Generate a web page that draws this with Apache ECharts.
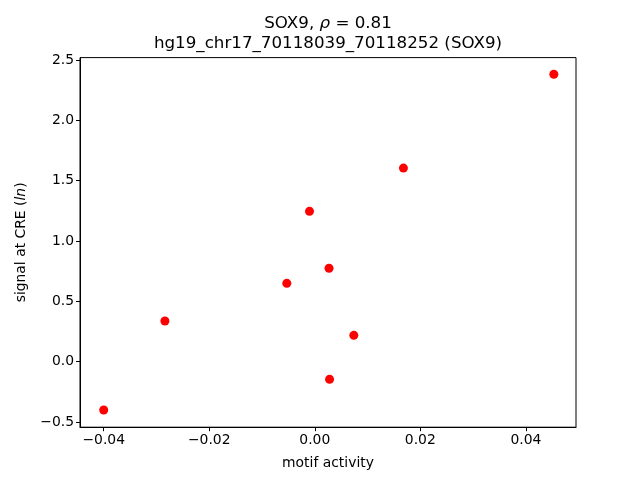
<!DOCTYPE html>
<html><head><meta charset="utf-8">
<script src="https://cdn.jsdelivr.net/npm/echarts@6/dist/echarts.min.js"></script>
<style>html,body{margin:0;padding:0;background:#fff}#c{width:640px;height:480px}</style>
</head><body><div id="c"></div>
<script>
const motifActivity = [-0.0400, -0.0284, -0.0053, -0.0010, 0.0027, 0.0028, 0.0074, 0.0168, 0.0453];
const signalAtCRE   = [-0.401, 0.337, 0.649, 1.246, 0.774, -0.147, 0.218, 1.605, 2.383];
const xTicks = [-0.04, -0.02, 0.00, 0.02, 0.04];
const yTicks = [-0.5, 0.0, 0.5, 1.0, 1.5, 2.0, 2.5];

const pts = motifActivity.map((x, i) => [x, signalAtCRE[i]]);
const font = 'DejaVu Sans';
const fmt = (v, d) => { const s = Math.abs(v).toFixed(d); return (v < -1e-12 ? '\u2212' : '') + s; };

const chart = echarts.init(document.getElementById('c'), null, {renderer: 'canvas'});
chart.setOption({
  animation: false,
  backgroundColor: '#fff',
  title: {
    left: 323, top: 9, textAlign: 'center',
    text: '{a|SOX9, }{i|\u03c1}{a| = 0.81}\n{a|hg19_chr17_70118039_70118252 (SOX9)}',
    textStyle: {
      fontWeight: 'normal',
      rich: {
        a: {fontFamily: font, fontSize: 16.7, color: '#000', lineHeight: 20, fontWeight: 'normal'},
        i: {fontFamily: font, fontSize: 16.7, color: '#000', fontStyle: 'italic', lineHeight: 20, fontWeight: 'normal'}
      }
    }
  },
  grid: {left: 80, right: 64, top: 57.6, bottom: 52.8, show: true, borderColor: '#000', borderWidth: 1, backgroundColor: 'transparent', containLabel: false},
  xAxis: {
    type: 'value', min: -0.04449, max: 0.0495,
    name: 'motif activity', nameLocation: 'middle', nameGap: 29,
    nameTextStyle: {fontFamily: font, fontSize: 13.9, color: '#000'},
    axisLine: {show: true, onZero: false, lineStyle: {color: '#000', width: 1}},
    axisTick: {show: true, length: 4, lineStyle: {color: '#000'}, customValues: xTicks},
    axisLabel: {fontFamily: font, fontSize: 13.9, color: '#000', margin: 6, customValues: xTicks, formatter: v => fmt(v, 2)},
    splitLine: {show: false}
  },
  yAxis: {
    type: 'value', min: -0.544, max: 2.521,
    name: '{a|signal at CRE (}{i|ln}{a|)}', nameLocation: 'middle', nameGap: 52,
    nameTextStyle: {rich: {
      a: {fontFamily: font, fontSize: 13.9, color: '#000'},
      i: {fontFamily: font, fontSize: 13.9, color: '#000', fontStyle: 'italic'}
    }},
    axisLine: {show: true, onZero: false, lineStyle: {color: '#000', width: 1}},
    axisTick: {show: true, length: 4, lineStyle: {color: '#000'}, customValues: yTicks},
    axisLabel: {fontFamily: font, fontSize: 13.9, color: '#000', margin: 6, customValues: yTicks, formatter: v => fmt(v, 1)},
    splitLine: {show: false}
  },
  series: [{
    type: 'scatter', data: pts, symbol: 'circle', symbolSize: 9,
    itemStyle: {color: '#ff0000', opacity: 1}
  }]
});
</script></body></html>
